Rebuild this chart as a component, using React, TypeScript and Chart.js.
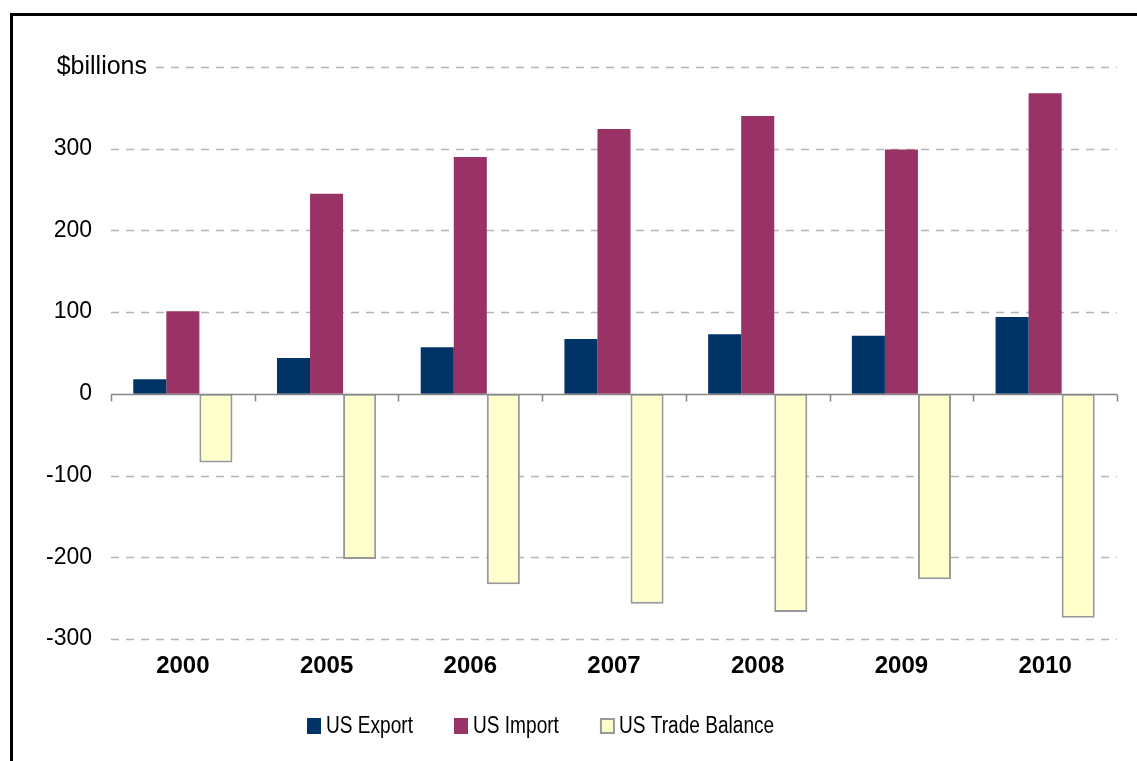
import React, { useEffect, useRef } from "react";
import { Chart, registerables } from "chart.js";

Chart.register(...registerables);

const categories = ["2000", "2005", "2006", "2007", "2008", "2009", "2010"];
const usExport = [18, 44, 57, 67, 73, 71, 94];
const usImport = [101, 245, 290, 324, 340, 299, 368];
const usTradeBalance = [-84, -202, -233, -257, -267, -227, -274];
const yTickValues = [-300, -200, -100, 0, 100, 200, 300, 400];
const yAxisTitle = "$billions";
const seriesNames = ["US Export", "US Import", "US Trade Balance"];

const FONT = "'Liberation Sans', Arial, sans-serif";
const colors = ["#003366", "#993366", "#FFFFCC"];
const borderColors = ["#003366", "#993366", "#999999"];

const decorPlugin = {
  id: "decor",
  beforeDraw(chart: any) {
    const ctx = chart.ctx;
    const { left, right } = chart.chartArea;
    const y = chart.scales.y;
    ctx.save();
    ctx.fillStyle = "#ffffff";
    ctx.fillRect(0, 0, chart.width, chart.height);
    // frame
    ctx.fillStyle = "#000000";
    ctx.fillRect(10, 13, 3, chart.height);
    ctx.fillRect(10, 13, chart.width, 3);
    // dashed grid
    ctx.strokeStyle = "#b5b5b5";
    ctx.lineWidth = 1.5;
    ctx.setLineDash([8, 7]);
    yTickValues.forEach((v) => {
      if (v === 0) return;
      const py = Math.round(y.getPixelForValue(v)) + 0.5;
      ctx.beginPath();
      ctx.moveTo(left, py);
      ctx.lineTo(right, py);
      ctx.stroke();
    });
    ctx.restore();
  },
  afterDatasetsDraw(chart: any) {
    const ctx = chart.ctx;
    const { left, right } = chart.chartArea;
    const y = chart.scales.y;
    ctx.save();
    // zero line
    const zy = Math.round(y.getPixelForValue(0)) + 0.5;
    ctx.strokeStyle = "#868686";
    ctx.lineWidth = 1.5;
    ctx.beginPath();
    ctx.moveTo(left, zy);
    ctx.lineTo(right, zy);
    ctx.stroke();
    // category tick marks
    const n = categories.length;
    const cw = (right - left) / n;
    for (let i = 0; i <= n; i++) {
      const px = Math.round(left + i * cw) + 0.5;
      ctx.beginPath();
      ctx.moveTo(px, zy);
      ctx.lineTo(px, zy + 7);
      ctx.stroke();
    }
    // y axis title at top gridline
    const ty = y.getPixelForValue(400);
    ctx.font = `25px ${FONT}`;
    ctx.textAlign = "right";
    ctx.textBaseline = "middle";
    const tw = ctx.measureText(yAxisTitle).width;
    ctx.fillStyle = "#ffffff";
    ctx.fillRect(147 - tw - 4, ty - 15, tw + 10, 30);
    ctx.fillStyle = "#000000";
    ctx.fillText(yAxisTitle, 147, ty);
    // legend (slightly condensed text)
    const sx = 0.83;
    ctx.font = `23px ${FONT}`;
    ctx.textAlign = "left";
    let lx = 307;
    const ly = 726;
    seriesNames.forEach((name, i) => {
      ctx.fillStyle = colors[i];
      ctx.fillRect(lx, ly - 8, 14, 16);
      if (i === 2) {
        ctx.strokeStyle = borderColors[i];
        ctx.lineWidth = 2;
        ctx.strokeRect(lx + 1, ly - 7, 13, 14);
      }
      ctx.fillStyle = "#000000";
      const w = ctx.measureText(name).width * sx;
      ctx.save();
      ctx.translate(lx + 19, ly + 1);
      ctx.scale(sx, 1);
      ctx.fillText(name, 0, 0);
      ctx.restore();
      lx += 19 + w + 41;
    });
    ctx.restore();
  },
};

export default function App() {
  const canvasRef = useRef<HTMLCanvasElement | null>(null);

  useEffect(() => {
    if (!canvasRef.current) return;
    const chart = new Chart(canvasRef.current, {
      type: "bar",
      data: {
        labels: categories,
        datasets: [
          {
            label: seriesNames[0],
            data: usExport,
            backgroundColor: colors[0],
            borderColor: borderColors[0],
            borderWidth: 0,
          },
          {
            label: seriesNames[1],
            data: usImport,
            backgroundColor: colors[1],
            borderColor: borderColors[1],
            borderWidth: 0,
          },
          {
            label: seriesNames[2],
            data: usTradeBalance,
            backgroundColor: colors[2],
            borderColor: borderColors[2],
            borderWidth: 2,
            borderSkipped: false,
          },
        ],
      },
      options: {
        animation: false,
        responsive: true,
        maintainAspectRatio: false,
        devicePixelRatio: 1,
        layout: { padding: { left: 0, right: 20, top: 67, bottom: 0 } },
        datasets: {
          bar: { categoryPercentage: 0.69, barPercentage: 1.0 },
        },
        plugins: {
          legend: { display: false },
          tooltip: { enabled: false },
          title: { display: false },
        },
        scales: {
          x: {
            grid: { display: false, drawTicks: false },
            border: { display: false },
            ticks: {
              color: "#000000",
              font: { family: FONT, size: 24, weight: "bold" },
              padding: 13,
              maxRotation: 0,
            },
            afterFit: (s: any) => {
              s.height = 122;
            },
          },
          y: {
            min: -300,
            max: 400,
            grid: { display: false, drawTicks: false },
            border: { display: false },
            ticks: {
              stepSize: 100,
              color: "#000000",
              font: { family: FONT, size: 23 },
              padding: 19,
              callback: (v: any) => (v === 400 ? "" : String(v)),
            },
            afterFit: (s: any) => {
              s.width = 111;
            },
          },
        },
      },
      plugins: [decorPlugin],
    });
    return () => chart.destroy();
  }, []);

  return (
    <div
      style={{
        position: "fixed",
        left: 0,
        top: 0,
        width: 1137,
        height: 761,
        background: "#ffffff",
      }}
    >
      <canvas ref={canvasRef} />
    </div>
  );
}
